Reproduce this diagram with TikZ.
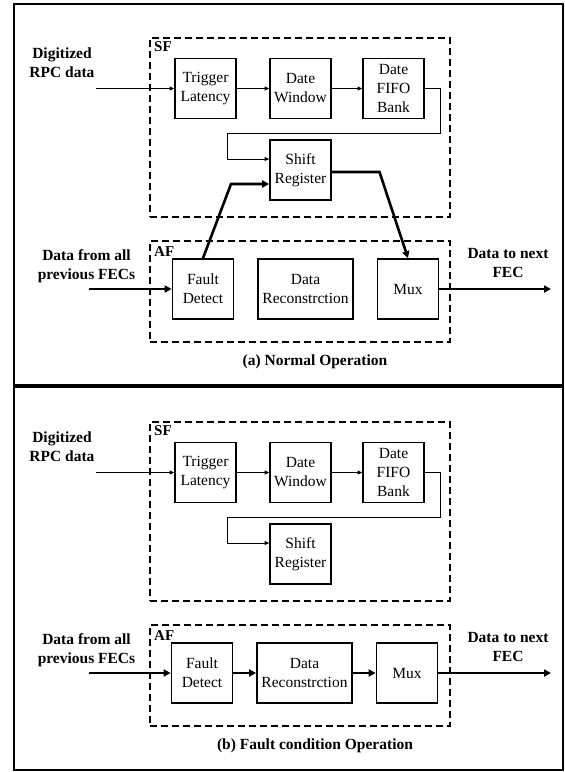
\documentclass[tikz,border=0pt]{standalone}
\usepackage{fontspec}
\setmainfont{Liberation Serif}
\usetikzlibrary{arrows.meta,calc}
\begin{document}
\begin{tikzpicture}[x=1pt,y=-1pt,
  frame/.style={draw,line width=1.8pt},
  zone/.style={draw,line width=2pt,dash pattern=on 7pt off 4pt,inner sep=0pt},
  blk/.style={draw,line width=1.7pt,inner sep=0pt,minimum width=61pt,minimum height=60pt,
    align=center,font=\fontsize{15.5}{19}\selectfont},
  lbl/.style={align=center,inner sep=0pt,font=\fontsize{15.5}{19}\selectfont\bfseries},
  tag/.style={anchor=west,inner sep=0pt,font=\fontsize{15}{18}\selectfont\bfseries},
  thinarrow/.style={line width=0.9pt,-{Triangle[length=4.5pt,width=4pt]}},
  thickarrow/.style={line width=2.6pt,-{Triangle[length=7pt,width=7pt]}}]
\useasboundingbox (0,0) rectangle (565,772);

% ---------------- (a) normal operation ----------------
\draw[frame] (14.3,4) rectangle (562.7,384.8);
\node[zone,minimum width=300pt,minimum height=179pt] (sfA) at (300,127.3) {};
\node[tag] (sftagA) at (154,47) {SF};
\node[blk] (trigA) at (205.5,88.5) {Trigger\\Latency};
\node[blk] (winA) at (300.5,88.5) {Date\\Window};
\node[blk] (fifoA) at (393.5,88.5) {Date\\FIFO\\Bank};
\node[blk] (shiftA) at (300.5,170) {Shift\\Register};

\node[zone,minimum width=300pt,minimum height=101pt] (afA) at (300,291.5) {};
\node[tag] (aftagA) at (154,252) {AF};
\node[blk] (faultA) at (203,289) {Fault\\Detect};
\node[blk,minimum width=95pt] (recA) at (305.5,289) {Data\\Reconstrction};
\node[blk] (muxA) at (408,289) {Mux};

\node[lbl] (rpcA) at (62,62.5) {Digitized\\RPC data};
\node[lbl] (prevA) at (86.5,266.5) {Data from all\\previous FECs};
\node[lbl] (nextA) at (508,263) {Data to next\\FEC};
\node[lbl] (capA) at (315,362) {(a) Normal Operation};

\coordinate (rpcinA) at (95.5,88.5);
\coordinate (previnA) at (89,289);
\coordinate (outA) at (551,289);

\draw[thinarrow] (rpcinA) -- (trigA);
\draw[thinarrow] (trigA) -- (winA);
\draw[thinarrow] (winA) -- (fifoA);
\draw[thinarrow] (fifoA.east) -- ++(16,0) |- (227,133) |- ($(shiftA.west)+(0,-11)$);
\draw[thickarrow] (faultA.north) -- (231,184) -- ($(shiftA.west)+(0,14)$);
\draw[thickarrow] ($(shiftA.east)+(0,2)$) -- (379.5,172) -- (muxA.north);
\draw[thickarrow] (previnA) -- (faultA);
\draw[thickarrow] (muxA) -- (outA);

% ---------------- (b) fault condition operation ----------------
\draw[frame] (14.3,386.8) rectangle (562.7,769.6);
\node[zone,minimum width=300pt,minimum height=179pt] (sfB) at (300,511.3) {};
\node[tag] (sftagB) at (154,431) {SF};
\node[blk] (trigB) at (205.5,472.5) {Trigger\\Latency};
\node[blk] (winB) at (300.5,472.5) {Date\\Window};
\node[blk] (fifoB) at (393.5,472.5) {Date\\FIFO\\Bank};
\node[blk] (shiftB) at (300.5,554) {Shift\\Register};

\node[zone,minimum width=300pt,minimum height=101pt] (afB) at (300,675.5) {};
\node[tag] (aftagB) at (154,636) {AF};
\node[blk] (faultB) at (202,673) {Fault\\Detect};
\node[blk,minimum width=95pt] (recB) at (304.5,673) {Data\\Reconstrction};
\node[blk] (muxB) at (407,673) {Mux};

\node[lbl] (rpcB) at (62,446.5) {Digitized\\RPC data};
\node[lbl] (prevB) at (86.5,650.5) {Data from all\\previous FECs};
\node[lbl] (nextB) at (508,647) {Data to next\\FEC};
\node[lbl] (capB) at (315,746) {(b) Fault condition Operation};

\coordinate (rpcinB) at (95.5,472.5);
\coordinate (previnB) at (89,673);
\coordinate (outB) at (551,673);

\draw[thinarrow] (rpcinB) -- (trigB);
\draw[thinarrow] (trigB) -- (winB);
\draw[thinarrow] (winB) -- (fifoB);
\draw[thinarrow] (fifoB.east) -- ++(16,0) |- (227,517) |- ($(shiftB.west)+(0,-11)$);
\draw[thickarrow] (previnB) -- (faultB);
\draw[thickarrow] (faultB) -- (recB);
\draw[thickarrow] (recB) -- (muxB);
\draw[thickarrow] (muxB) -- (outB);
\end{tikzpicture}
\end{document}
